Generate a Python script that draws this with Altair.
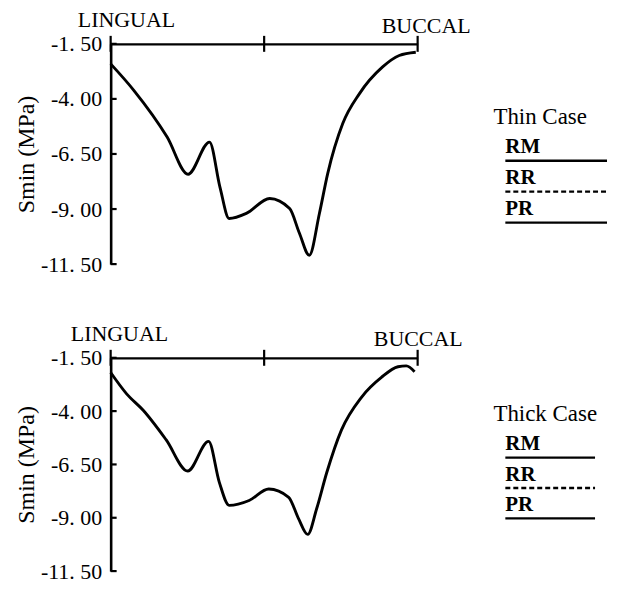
import altair as alt
import pandas as pd

FONT = "Liberation Serif"

# ---- data ----
pos_thin = [0.0, 0.076, 0.184, 0.252, 0.322, 0.356, 0.386, 0.442, 0.518, 0.583,
            0.615, 0.647, 0.680, 0.707, 0.756, 0.810, 0.885, 0.940, 0.994]
smin_thin = [-2.41, -3.62, -5.73, -7.42, -5.96, -8.00, -9.43, -9.20, -8.52, -8.98,
             -10.10, -11.10, -9.20, -7.39, -5.12, -3.77, -2.56, -2.03, -1.88]

pos_thick = [0.0, 0.052, 0.106, 0.181, 0.251, 0.319, 0.354, 0.386, 0.451, 0.515,
             0.580, 0.612, 0.642, 0.671, 0.704, 0.752, 0.817, 0.882, 0.936, 0.963, 0.990]
smin_thick = [-2.19, -3.19, -3.96, -5.35, -6.81, -5.42, -7.34, -8.42, -8.19, -7.65,
              -8.04, -9.04, -9.78, -8.58, -6.88, -4.88, -3.35, -2.42, -1.92, -1.88, -2.15]

y_ticks = [-1.5, -4.0, -6.5, -9.0, -11.5]
x_ticks = [0.0, 0.5, 1.0]
side_labels = ["LINGUAL", "BUCCAL"]
series = ["RM", "RR", "PR"]
series_dash = ["solid", "dashed", "solid"]
case_titles = ["Thin Case", "Thick Case"]

X_AXIS = alt.Axis(orient="top", labels=False, ticks=False, grid=False,
                  title=None, domainColor="black", domainWidth=2.2)
Y_AXIS = alt.Axis(values=y_ticks, ticks=False, grid=False,
                  labelExpr="replace(replace(format(datum.value, '.2f'), '\u2212', '-'), '.', '. ')",
                  labelFont=FONT, labelFontSize=22, labelColor="black",
                  labelPadding=9, domainColor="black", domainWidth=2.6,
                  title="Smin (MPa)", titleFont=FONT, titleFontSize=24,
                  titleFontWeight="normal", titleColor="black",
                  titlePadding=2)


def plot_panel(pos, smin, height, ling_dx, ling_dy, bucc_dx, bucc_dy):
    xsc = alt.Scale(domain=[0, 1], nice=False, zero=False)
    ysc = alt.Scale(domain=[-11.5, -1.5], nice=False, zero=False)
    df = pd.DataFrame({"pos": pos, "smin": smin})
    line = alt.Chart(df).mark_line(
        color="black", strokeWidth=2.9, interpolate="monotone"
    ).encode(
        x=alt.X("pos:Q", scale=xsc, axis=X_AXIS),
        y=alt.Y("smin:Q", scale=ysc, axis=Y_AXIS),
    )
    xt = alt.Chart(pd.DataFrame({"pos": x_ticks})).mark_rule(
        color="black", strokeWidth=2.2
    ).encode(x=alt.X("pos:Q", scale=xsc, axis=X_AXIS), y=alt.value(-8), y2=alt.value(8))
    yt = alt.Chart(pd.DataFrame({"smin": y_ticks})).mark_rule(
        color="black", strokeWidth=2.2
    ).encode(y=alt.Y("smin:Q", scale=ysc, axis=Y_AXIS), x=alt.value(0), x2=alt.value(6))
    lab_df = pd.DataFrame({"pos": [0.0, 1.0], "lab": side_labels})
    ling = alt.Chart(lab_df).transform_filter("datum.lab == 'LINGUAL'").mark_text(
        font=FONT, fontSize=22, color="black", align="left", baseline="middle",
        dx=ling_dx, dy=ling_dy
    ).encode(x=alt.X("pos:Q", scale=xsc, axis=X_AXIS), y=alt.value(0), text="lab:N")
    bucc = alt.Chart(lab_df).transform_filter("datum.lab == 'BUCCAL'").mark_text(
        font=FONT, fontSize=22, color="black", align="left", baseline="middle",
        dx=bucc_dx, dy=bucc_dy
    ).encode(x=alt.X("pos:Q", scale=xsc, axis=X_AXIS), y=alt.value(0), text="lab:N")
    return alt.layer(line, xt, yt, ling, bucc).properties(width=308, height=height)


def legend_panel(title, height, r_top, r_bot, line_end):
    ysc = alt.Scale(domain=[r_top, r_bot], reverse=True, nice=False, zero=False)
    df = pd.DataFrame({"name": series, "rank": [0, 1, 2], "dash": series_dash})
    head = alt.Chart(pd.DataFrame({"name": [title], "rank": [-1]})).mark_text(
        font=FONT, fontSize=23, color="black", align="left", baseline="middle"
    ).encode(x=alt.value(0), y=alt.Y("rank:Q", scale=ysc, axis=None), text="name:N")
    names = alt.Chart(df).mark_text(
        font=FONT, fontSize=21, fontWeight="bold", color="black",
        align="left", baseline="middle"
    ).encode(x=alt.value(12), y=alt.Y("rank:Q", scale=ysc, axis=None), text="name:N")
    rules = alt.Chart(df).transform_calculate(ul="datum.rank + 0.43").mark_rule(
        color="black", strokeWidth=2.4
    ).encode(
        x=alt.value(12), x2=alt.value(line_end),
        y=alt.Y("ul:Q", scale=ysc, axis=None),
        strokeDash=alt.StrokeDash("dash:N", legend=None,
                                  scale=alt.Scale(domain=["solid", "dashed"],
                                                  range=[[1, 0], [5, 3]])),
    )
    return alt.layer(head, names, rules).properties(width=114, height=height)


top_plot = plot_panel(pos_thin, smin_thin, 221, -33, -24, -36, -18)
top_leg = legend_panel(case_titles[0], 221, -104 / 31, 117 / 31, 114)
bot_plot = plot_panel(pos_thick, smin_thick, 214, -40, -24, -44, -19)
bot_leg = legend_panel(case_titles[1], 214, -87 / 30.5, 127 / 30.5, 102)

chart = alt.concat(
    top_plot, top_leg, bot_plot, bot_leg,
    columns=2, spacing={"row": 94, "column": 76}, bounds="flush",
).properties(
    padding={"left": 6, "top": 0, "right": 0, "bottom": 0},
    background="white",
).configure_view(stroke=None).configure_axis(
    labelFont=FONT, titleFont=FONT
)

chart.save("out.html", embed_options={"renderer": "svg", "actions": False})
